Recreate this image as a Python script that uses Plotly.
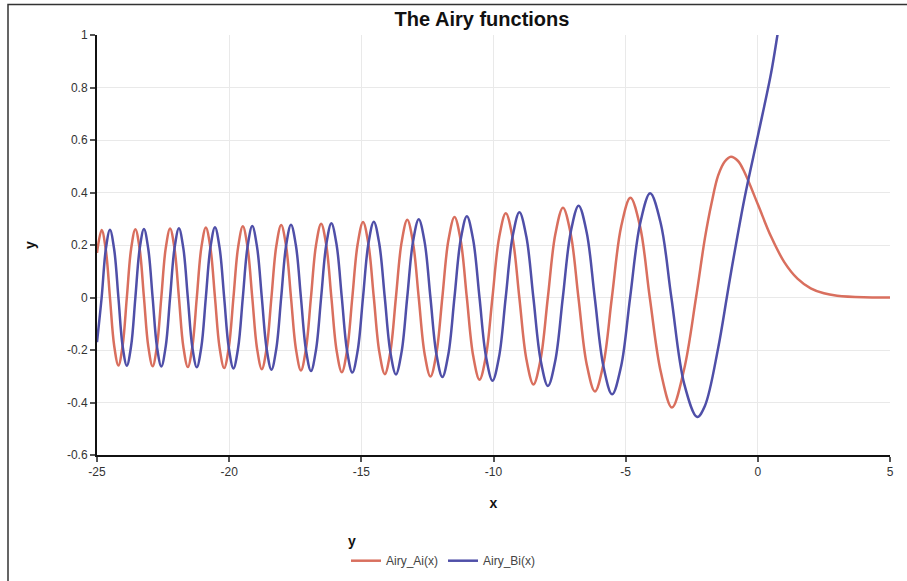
import plotly.graph_objects as go

# Points: extrema, zero crossings and intermediate values along each curve
ai_x = [-25.0, -24.824, -24.667, -24.510, -24.350, -24.190, -24.031, -23.871, -23.710, -23.548,
        -23.386, -23.224, -23.060, -22.896, -22.732, -22.567, -22.401, -22.235, -22.068, -21.901,
        -21.733, -21.564, -21.394, -21.224, -21.053, -20.882, -20.710, -20.537, -20.363, -20.189,
        -20.014, -19.838, -19.661, -19.483, -19.305, -19.126, -18.946, -18.765, -18.583, -18.401,
        -18.217, -18.032, -17.847, -17.661, -17.473, -17.285, -17.096, -16.906, -16.714, -16.521,
        -16.327, -16.133, -15.936, -15.738, -15.540, -15.341, -15.139, -14.936, -14.732, -14.528,
        -14.320, -14.112, -13.902, -13.692, -13.477, -13.262, -13.046, -12.829, -12.607, -12.385,
        -12.161, -11.936, -11.706, -11.475, -11.242, -11.009, -10.769, -10.528, -10.284, -10.040,
        -9.788, -9.535, -9.279, -9.023, -8.756, -8.489, -8.217, -7.944, -7.658, -7.372,
        -7.080, -6.787, -6.475, -6.163, -5.842, -5.521, -5.171, -4.820, -4.454, -4.088,
        -3.668, -3.248, -2.793, -2.338, -2.0, -1.75, -1.5, -1.25, -1.019, -0.75,
        -0.5, 0.0, 0.5, 1.0, 1.5, 2.0, 2.5, 3.0, 4.0, 5.0]
ai_y = [0.17, 0.257, 0.182, 0.0, -0.184, -0.259, -0.184, 0.0, 0.185, 0.260,
        0.185, 0.0, -0.186, -0.262, -0.186, 0.0, 0.187, 0.263, 0.187, 0.0,
        -0.188, -0.265, -0.188, 0.0, 0.190, 0.267, 0.190, 0.0, -0.191, -0.269,
        -0.191, 0.0, 0.192, 0.271, 0.192, 0.0, -0.194, -0.273, -0.194, 0.0,
        0.196, 0.276, 0.196, 0.0, -0.197, -0.278, -0.197, 0.0, 0.200, 0.281,
        0.200, 0.0, -0.202, -0.285, -0.202, 0.0, 0.204, 0.288, 0.204, 0.0,
        -0.207, -0.292, -0.207, 0.0, 0.210, 0.296, 0.210, 0.0, -0.214, -0.301,
        -0.214, 0.0, 0.218, 0.307, 0.218, 0.0, -0.222, -0.313, -0.222, 0.0,
        0.228, 0.321, 0.228, 0.0, -0.235, -0.331, -0.235, 0.0, 0.243, 0.342,
        0.243, 0.0, -0.254, -0.358, -0.254, 0.0, 0.270, 0.380, 0.270, 0.0,
        -0.285, -0.419, -0.275, 0.0, 0.227, 0.360, 0.465, 0.518, 0.536, 0.520,
        0.476, 0.355, 0.232, 0.135, 0.072, 0.035, 0.016, 0.007, 0.001, 0.0001]

bi_x = [-25.0, -24.824, -24.667, -24.510, -24.350, -24.190, -24.031, -23.871, -23.710, -23.548,
        -23.386, -23.224, -23.060, -22.896, -22.732, -22.567, -22.401, -22.235, -22.068, -21.901,
        -21.733, -21.564, -21.394, -21.224, -21.053, -20.882, -20.710, -20.537, -20.363, -20.189,
        -20.014, -19.838, -19.661, -19.483, -19.305, -19.126, -18.946, -18.765, -18.583, -18.401,
        -18.217, -18.032, -17.847, -17.661, -17.473, -17.285, -17.096, -16.906, -16.714, -16.521,
        -16.327, -16.133, -15.936, -15.739, -15.540, -15.341, -15.139, -14.937, -14.733, -14.528,
        -14.321, -14.113, -13.902, -13.691, -13.478, -13.264, -13.046, -12.828, -12.607, -12.386,
        -12.161, -11.935, -11.706, -11.477, -11.242, -11.007, -10.769, -10.530, -10.284, -10.037,
        -9.788, -9.538, -9.279, -9.020, -8.756, -8.492, -8.216, -7.940, -7.659, -7.377,
        -7.079, -6.781, -6.476, -6.170, -5.841, -5.512, -5.172, -4.831, -4.452, -4.073,
        -3.672, -3.271, -2.783, -2.294, -2.0, -1.5, -1.174, -1.0, -0.5, 0.0,
        0.5, 0.75, 0.8]
bi_y = [-0.17, 0.0, 0.183, 0.258, 0.183, 0.0, -0.185, -0.260, -0.185, 0.0,
        0.185, 0.261, 0.185, 0.0, -0.187, -0.263, -0.187, 0.0, 0.187, 0.264,
        0.187, 0.0, -0.189, -0.266, -0.189, 0.0, 0.190, 0.268, 0.190, 0.0,
        -0.192, -0.270, -0.192, 0.0, 0.193, 0.272, 0.193, 0.0, -0.195, -0.275,
        -0.195, 0.0, 0.197, 0.277, 0.197, 0.0, -0.199, -0.280, -0.199, 0.0,
        0.201, 0.283, 0.201, 0.0, -0.203, -0.286, -0.203, 0.0, 0.205, 0.289,
        0.205, 0.0, -0.208, -0.293, -0.208, 0.0, 0.212, 0.298, 0.212, 0.0,
        -0.215, -0.303, -0.215, 0.0, 0.220, 0.310, 0.220, 0.0, -0.225, -0.317,
        -0.225, 0.0, 0.231, 0.325, 0.231, 0.0, -0.239, -0.337, -0.239, 0.0,
        0.249, 0.350, 0.249, 0.0, -0.262, -0.369, -0.262, 0.0, 0.282, 0.397,
        0.282, 0.0, -0.330, -0.455, -0.412, -0.192, 0.0, 0.104, 0.380, 0.615,
        0.854, 1.005, 1.035]

x_ticks = [-25, -20, -15, -10, -5, 0, 5]
y_ticks = [-0.6, -0.4, -0.2, 0, 0.2, 0.4, 0.6, 0.8, 1]
y_tick_text = ["-0.6", "-0.4", "-0.2", "0", "0.2", "0.4", "0.6", "0.8", "1"]

AI_COLOR = "#d96f5e"
BI_COLOR = "#4f4fa8"
FONT = "Liberation Sans, Arial, sans-serif"

fig = go.Figure()
fig.add_trace(go.Scatter(x=ai_x, y=ai_y, mode="lines", name="Airy_Ai(x)",
                         line=dict(color=AI_COLOR, width=2.5, shape="spline", smoothing=1.0)))
fig.add_trace(go.Scatter(x=bi_x, y=bi_y, mode="lines", name="Airy_Bi(x)",
                         line=dict(color=BI_COLOR, width=2.5, shape="spline", smoothing=1.0)))

W, H = 907, 581
L, R, T, B = 97, 17, 35, 126
pw, ph = W - L - R, H - T - B

def px_to_paper_x(px):
    return (px - L) / pw

def px_to_paper_y(py):
    return (H - B - py) / ph

fig.update_layout(
    width=W, height=H,
    margin=dict(l=L, r=R, t=T, b=B, autoexpand=False),
    paper_bgcolor="white", plot_bgcolor="white",
    font=dict(family=FONT, size=12, color="#333"),
    title=dict(text="<b>The Airy functions</b>", font=dict(size=20, color="#111", family=FONT),
               x=482 / W, xanchor="center", xref="container",
               y=1 - 19 / H, yanchor="middle", yref="container"),
    xaxis=dict(range=[-25, 5], tickvals=x_ticks, ticktext=[str(t) for t in x_ticks],
               showline=True, linecolor="#111", linewidth=2, ticks="outside", ticklen=5,
               tickcolor="#555", tickwidth=1.5, showgrid=True, gridcolor="#e9e9e9", gridwidth=1,
               zeroline=False, mirror=False, automargin=False,
               title=dict(text="<b>x</b>", font=dict(size=14, color="#111"), standoff=20),
               tickfont=dict(size=12, color="#333")),
    yaxis=dict(range=[-0.6, 1], tickvals=y_ticks, ticktext=y_tick_text,
               showline=True, linecolor="#111", linewidth=2, ticks="outside", ticklen=5,
               tickcolor="#555", tickwidth=1.5, showgrid=True, gridcolor="#e9e9e9", gridwidth=1,
               zeroline=False, automargin=False,
               title=dict(text="<b>y</b>", font=dict(size=14, color="#111"), standoff=28),
               tickfont=dict(size=12, color="#333")),
    legend=dict(orientation="h", x=px_to_paper_x(346), xanchor="left",
                y=px_to_paper_y(528), yanchor="top",
                title=dict(text="<b>y</b>", side="top", font=dict(size=14, color="#111")),
                font=dict(size=12, color="#444"), itemwidth=30, tracegroupgap=0,
                bgcolor="rgba(0,0,0,0)"),
    shapes=[dict(type="rect", xref="paper", yref="paper",
                 x0=px_to_paper_x(8), x1=px_to_paper_x(W + 10),
                 y0=px_to_paper_y(H + 10), y1=px_to_paper_y(4.5),
                 line=dict(color="#333", width=1.5), fillcolor="rgba(0,0,0,0)", layer="below")],
)

fig.write_html("out.html")
